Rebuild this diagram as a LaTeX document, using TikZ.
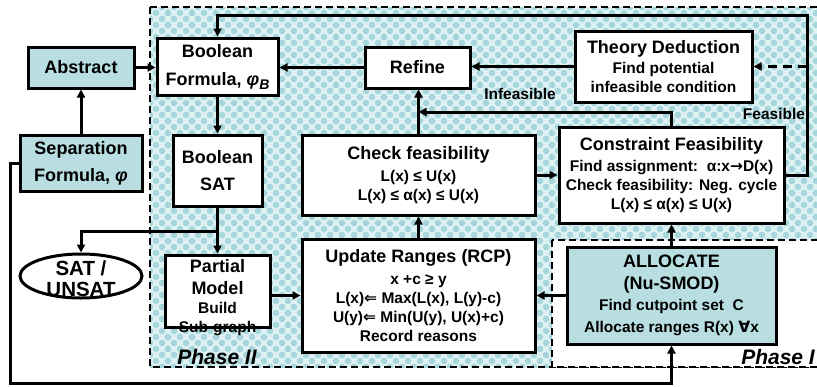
\documentclass[tikz,border=0pt]{standalone}
\usepackage{fontspec}
\setmainfont{Liberation Sans}
\newfontfamily\symfont{DejaVu Sans}
\usetikzlibrary{arrows.meta,shapes.geometric}

\definecolor{tealfill}{RGB}{184,222,226}
\definecolor{bubble}{RGB}{166,213,219}
\definecolor{bubblebase}{RGB}{222,241,243}
\newcommand{\hd}{\fontsize{18}{21}\selectfont}
\newcommand{\sm}{\fontsize{15.5}{19}\selectfont}
\newcommand{\sym}[1]{{\symfont\bfseries #1}}

\tikzset{
  box/.style={draw, line width=3pt, fill=white, inner sep=0pt, align=center, font=\bfseries\sm},
  tealbox/.style={box, fill=tealfill},
  arr/.style={line width=3pt, -{Triangle[length=8pt,width=8pt]}},
  phase/.style={line width=1.8pt, dash pattern=on 7pt off 4pt},
  lbl/.style={font=\bfseries\sm, inner sep=0pt},
}

\begin{document}
\begin{tikzpicture}[x=1pt, y=-1pt]
  \useasboundingbox (0,0) rectangle (817,386);
  \clip (0,0) rectangle (817,386);

  % Phase II background
  \begin{scope}
    \clip (150,7) rectangle (822,367);
    \fill[bubblebase] (150,7) rectangle (822,367);
    \foreach \j in {0,...,60} {
      \pgfmathsetmacro\off{mod(\j,2)*6}
      \foreach \i in {0,...,56}
        \fill[bubble] (150+\i*12+\off, 7+\j*6) circle (3.3);
    }
  \end{scope}
  \draw[phase] (150,7) rectangle (822,367);
  % Phase I background
  \fill[white] (552,240) rectangle (822,367);
  \draw[phase] (552,240) rectangle (822,367);
  \node[font=\bfseries\itshape\fontsize{21}{24}\selectfont, inner sep=0pt] (phasetwo) at (217,357) {Phase II};
  \node[font=\bfseries\itshape\fontsize{21}{24}\selectfont, inner sep=0pt, anchor=east] (phaseone) at (815,357) {Phase I};

  % boxes
  \node[tealbox, minimum width=106, minimum height=41] (abstract) at (81,67.5) {\hd Abstract};
  \node[tealbox, minimum width=122, minimum height=56] (sepf) at (81,163)
    {\hd Separation\\[8pt] \hd Formula, {\itshape φ}};
  \node[box, minimum width=121, minimum height=57] (boolf) at (217.5,66.5)
    {\hd Boolean\\[9pt] \hd Formula, {\itshape φ\raisebox{-4pt}{\fontsize{14}{14}\selectfont B}}};
  \node[box, minimum width=105, minimum height=41] (refine) at (417.5,67.5) {\hd Refine};
  \node[box, minimum width=177, minimum height=71] (theory) at (663.5,66.5)
    {\hd Theory Deduction\\[1pt] Find potential\\ infeasible condition};
  \node[box, minimum width=89, minimum height=71] (boolsat) at (217.5,170.5)
    {\hd Boolean\\[8pt] \hd SAT};
  \node[box, minimum width=233, minimum height=80] (checkf) at (418.5,175)
    {\hd Check feasibility\\[3pt] L(x) ≤ U(x)\\ L(x) ≤ α(x) ≤ U(x)};
  \node[box, minimum width=225, minimum height=96] (constf) at (671.5,175)
    {\hd Constraint Feasibility\\[2pt] Find assignment:\ \ α:x\sym{→}D(x)\\
     Check feasibility: Neg. cycle\\ L(x) ≤ α(x) ≤ U(x)};
  \node[draw, ellipse, line width=3pt, fill=white, minimum width=122, minimum height=44] (satunsat) at (81,276) {};
  \node[font=\bfseries\fontsize{20.5}{21}\selectfont, align=center, inner sep=0pt] (satlbl) at (81,279) {SAT /\\ UNSAT};
  \node[box, minimum width=105, minimum height=72] (partial) at (217.5,291) {};
  \node[font=\bfseries\sm, align=center, inner sep=0pt] (partlbl) at (217.5,298)
    {\hd Partial\\[3pt] \hd Model\\ Build\\ Sub-graph};
  \node[box, minimum width=233, minimum height=113] (update) at (418.5,295.5)
    {\hd Update Ranges (RCP)\\[3pt] x +c ≥ y\\ L(x)\sym{⇐} Max(L(x), L(y)-c)\\
     U(y)\sym{⇐} Min(U(y), U(x)+c)\\ Record reasons};
  \node[tealbox, minimum width=209, minimum height=97] (allocate) at (671.5,295.5)
    {\hd ALLOCATE\\[3pt] \hd (Nu-SMOD)\\[2pt] Find cutpoint set\ \ C\\[3pt] Allocate ranges R(x) \sym{∀}x};

  % helper points
  \coordinate (loopbot) at (10,383);
  \coordinate (split) at (217.5,231);
  \coordinate (infj) at (418.5,112);
  \coordinate (fbr) at (807,15);
  \coordinate (fdash) at (807,66.5);

  % connectors
  \draw[arr] (abstract.east) -- (abstract.east -| boolf.west);
  \draw[arr] (sepf.north) -- (abstract.south);
  \draw[arr] (sepf.west) -| (loopbot) -| (allocate.south);
  \draw[arr] (boolf.south) -- (boolsat.north);
  \draw[arr] (boolsat.south) -- (partial.north);
  \draw[arr] (split) -| (satunsat.north);
  \draw[arr] (update.west -| partial.east) -- (update.west);
  \draw[arr] (allocate.west) -- (update.east);
  \draw[arr] (update.north) -- (checkf.south);
  \draw[arr] (checkf.east) -- (constf.west);
  \draw[arr] (allocate.north) -- (constf.south);
  \draw[arr] (checkf.north) -- (checkf.north |- refine.south);
  \draw[arr] (constf.north) |- (infj);
  \draw[arr] (theory.west) -- (theory.west -| refine.east);
  \draw[arr] (refine.west) -- (refine.west -| boolf.east);
  \draw[arr] (constf.east) -| (fbr) -| (boolf.north);
  \draw[arr, dash pattern=on 9pt off 6pt] (fdash) -- (theory.east);

  % labels
  \node[lbl] (infeas) at (520,94) {Infeasible};
  \node[lbl] (feas) at (774,114) {Feasible};
\end{tikzpicture}
\end{document}
